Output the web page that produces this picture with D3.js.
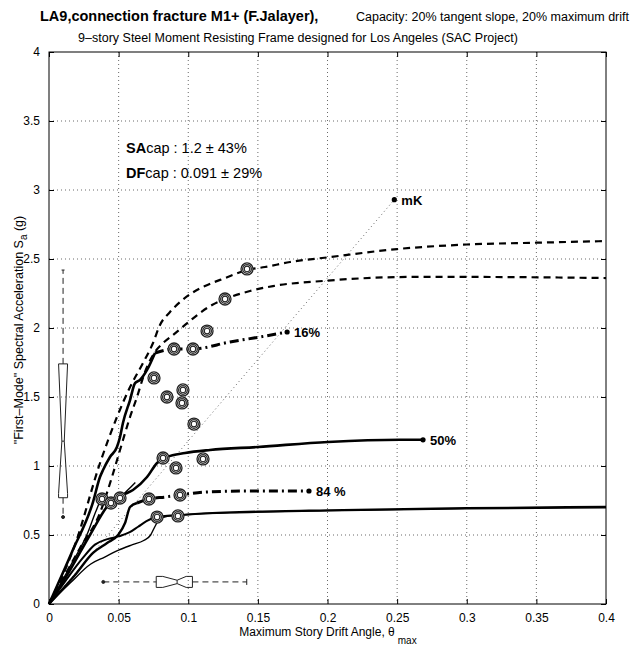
<!DOCTYPE html>
<html>
<head>
<meta charset="utf-8">
<script src="https://cdn.jsdelivr.net/npm/d3@7"></script>
<style>
body { margin: 0; background: #fff; }
text { font-family: "Liberation Sans", Arial, Helvetica, sans-serif; fill: #000; }
</style>
</head>
<body>
<svg></svg>
<script>
var width = 634, height = 649;
var margin = {top: 52, right: 28, bottom: 45, left: 49};
var w = width - margin.left - margin.right,
    h = height - margin.top - margin.bottom;

var xTicks = [0, 0.05, 0.1, 0.15, 0.2, 0.25, 0.3, 0.35, 0.4];
var yTicks = [0, 0.5, 1, 1.5, 2, 2.5, 3, 3.5, 4];

// single-record IDA curves [drift, Sa]
var idaDashA = [[0,0],[0.0187,0.43],[0.0366,1.02],[0.0488,1.355],[0.0582,1.572],[0.0675,1.746],
	[0.0747,1.891],[0.0797,2.022],[0.0869,2.116],[0.0941,2.188],[0.1027,2.254],[0.112,2.304],
	[0.1264,2.362],[0.1422,2.42],[0.1551,2.442],[0.1731,2.478],[0.2018,2.514],[0.25,2.572],
	[0.3,2.605],[0.35,2.618],[0.4,2.63]];
var idaDashB = [[0,0],[0.0223,0.406],[0.0366,0.66],[0.0452,0.92],[0.051,1.116],[0.0582,1.355],
	[0.0632,1.5],[0.0689,1.681],[0.0761,1.826],[0.0819,1.891],[0.089,1.949],[0.0977,2.022],
	[0.1084,2.109],[0.1171,2.167],[0.1264,2.21],[0.1443,2.268],[0.1609,2.304],[0.1968,2.341],
	[0.2614,2.37],[0.3,2.37],[0.4,2.362]];
var idaSolid1 = [[0,0],[0.012,0.17],[0.024,0.33],[0.033,0.43],[0.042,0.47],[0.05,0.49],[0.058,0.52],
	[0.064,0.56],[0.07,0.6],[0.077,0.63],[0.085,0.64],[0.093,0.645],[0.11,0.655],[0.15,0.67],
	[0.2,0.68],[0.3,0.695],[0.4,0.705]];
var idaSolid2 = [[0,0],[0.015,0.15],[0.03,0.29],[0.04,0.34],[0.05,0.39],[0.06,0.43],[0.068,0.46],
	[0.073,0.5],[0.076,0.56],[0.079,0.61],[0.085,0.635],[0.095,0.645],[0.13,0.66],[0.2,0.675],
	[0.3,0.69],[0.4,0.697]];
var idaSolid3 = [[0,0],[0.015,0.27],[0.028,0.52],[0.034,0.68],[0.038,0.76],[0.041,0.745],[0.045,0.73],
	[0.048,0.75],[0.051,0.77],[0.056,0.82],[0.062,0.88]];

// fractile curves
var frac16Solid = [[0,0],[0.0165,0.377],[0.0316,0.739],[0.0366,0.92],[0.0388,0.971],[0.0438,1.065],
	[0.0488,1.138],[0.051,1.21],[0.0531,1.312],[0.0582,1.478],[0.0618,1.601],[0.0653,1.623],
	[0.0704,1.696],[0.0761,1.819]];
var frac16Dash = [[0.0761,1.819],[0.0898,1.848],[0.1034,1.848],[0.13,1.899],[0.1515,1.935],[0.171,1.971]];
var frac50 = [[0,0],[0.0151,0.246],[0.0294,0.5],[0.0438,0.732],[0.0531,0.79],[0.0603,0.826],
	[0.0704,0.92],[0.0776,1.022],[0.0847,1.065],[0.0977,1.094],[0.1156,1.116],[0.1501,1.138],
	[0.2004,1.174],[0.2521,1.19],[0.2686,1.19]];
var frac84Solid = [[0,0],[0.0187,0.21],[0.0316,0.37],[0.0417,0.442],[0.0496,0.5],[0.0546,0.587],
	[0.0582,0.703],[0.0632,0.732]];
var frac84Dash = [[0.0632,0.732],[0.0718,0.761],[0.0833,0.775],[0.0941,0.79],[0.1135,0.812],
	[0.1443,0.819],[0.1867,0.819]];

// capacity points
var capPoints = [[0.1422,2.428],[0.1264,2.21],[0.1135,1.978],[0.0898,1.848],[0.1034,1.848],
	[0.0754,1.638],[0.0962,1.551],[0.0955,1.457],[0.0847,1.5],[0.1041,1.304],[0.0819,1.058],
	[0.0912,0.986],[0.1106,1.051],[0.0381,0.761],[0.0445,0.732],[0.051,0.768],[0.0718,0.761],
	[0.0941,0.79],[0.0776,0.63],[0.0926,0.638]];

var mK = [0.248, 2.93];

// box plots: lower whisker, q1, median, q3, upper whisker ; notch limits
var saBox = [0.63, 0.77, 1.18, 1.74, 2.42], saNotch = [0.8, 1.74];
var dfBox = [0.039, 0.077, 0.092, 0.103, 0.142], dfNotch = [0.0817, 0.0985];

var svg = d3.select("svg")
	.attr("width", width)
	.attr("height", height);

var x = d3.scaleLinear().domain([0, 0.4]).range([0, w]);
var y = d3.scaleLinear().domain([0, 4]).range([h, 0]);

var g = svg.append("g")
	.attr("transform", "translate(" + margin.left + "," + margin.top + ")");

// grid
g.append("g").selectAll("line")
	.data(xTicks.slice(1, -1))
	.enter().append("line")
	.attr("x1", function(d) { return x(d); }).attr("x2", function(d) { return x(d); })
	.attr("y1", 0).attr("y2", h)
	.attr("stroke", "#444").attr("stroke-width", 0.8).attr("stroke-dasharray", "1,3");
g.append("g").selectAll("line")
	.data(yTicks.slice(1, -1))
	.enter().append("line")
	.attr("y1", function(d) { return y(d); }).attr("y2", function(d) { return y(d); })
	.attr("x1", 0).attr("x2", w)
	.attr("stroke", "#444").attr("stroke-width", 0.8).attr("stroke-dasharray", "1,3");

// axes
var fmt = function(d) { return String(d); };
g.append("g").attr("transform", "translate(0," + h + ")")
	.call(d3.axisBottom(x).tickValues(xTicks).tickFormat(fmt).tickSizeInner(-5).tickSizeOuter(0).tickPadding(9));
g.append("g")
	.call(d3.axisLeft(y).tickValues(yTicks).tickFormat(fmt).tickSizeInner(-5).tickSizeOuter(0).tickPadding(9));
g.append("g")
	.call(d3.axisTop(x).tickValues(xTicks).tickFormat("").tickSizeInner(-5).tickSizeOuter(0));
g.append("g").attr("transform", "translate(" + w + ",0)")
	.call(d3.axisRight(y).tickValues(yTicks).tickFormat("").tickSizeInner(-5).tickSizeOuter(0));
g.selectAll(".domain").remove();
g.selectAll(".tick text").attr("font-size", 12).attr("font-family", "Liberation Sans, Arial, sans-serif");
g.selectAll(".tick line").attr("stroke", "#000");
g.append("rect").attr("width", w).attr("height", h)
	.attr("fill", "none").attr("stroke", "#000").attr("stroke-width", 1);

var line = d3.line()
	.x(function(d) { return x(d[0]); })
	.y(function(d) { return y(d[1]); })
	.curve(d3.curveMonotoneX);

// mK reference line
g.append("line")
	.attr("x1", x(0)).attr("y1", y(0))
	.attr("x2", x(mK[0])).attr("y2", y(mK[1]))
	.attr("stroke", "#555").attr("stroke-width", 0.9).attr("stroke-dasharray", "1,3");

var curves = [
	{d: idaSolid2, sw: 1.4, dash: null},
	{d: idaSolid1, sw: 2, dash: null},
	{d: idaSolid3, sw: 1.4, dash: null},
	{d: idaDashA, sw: 2.2, dash: "7,5"},
	{d: idaDashB, sw: 2.2, dash: "7,5"},
	{d: frac84Solid, sw: 2.4, dash: null},
	{d: frac84Dash, sw: 3, dash: "9,4,2,4"},
	{d: frac50, sw: 2.6, dash: null},
	{d: frac16Solid, sw: 2.6, dash: null},
	{d: frac16Dash, sw: 3, dash: "9,4,2,4"}
];

g.append("g").selectAll("path")
	.data(curves)
	.enter().append("path")
	.attr("d", function(c) { return line(c.d); })
	.attr("fill", "none")
	.attr("stroke", "#000")
	.attr("stroke-width", function(c) { return c.sw; })
	.attr("stroke-dasharray", function(c) { return c.dash; })
	.attr("stroke-linejoin", "round");

// capacity rings
var rings = g.append("g").selectAll("g")
	.data(capPoints)
	.enter().append("g")
	.attr("transform", function(d) { return "translate(" + x(d[0]) + "," + y(d[1]) + ")"; });
rings.append("circle").attr("r", 6).attr("fill", "#fff").attr("stroke", "#222").attr("stroke-width", 1.3);
rings.append("circle").attr("r", 4.4).attr("fill", "none").attr("stroke", "#333").attr("stroke-width", 1.3);
rings.append("circle").attr("r", 2.8).attr("fill", "none").attr("stroke", "#222").attr("stroke-width", 1.2);

// end markers with labels
var ends = [
	{p: frac16Dash[frac16Dash.length - 1], t: "16%"},
	{p: frac50[frac50.length - 1], t: "50%"},
	{p: frac84Dash[frac84Dash.length - 1], t: "84 %"},
	{p: mK, t: "mK"}
];
var endG = g.append("g").selectAll("g")
	.data(ends)
	.enter().append("g")
	.attr("transform", function(d) { return "translate(" + x(d.p[0]) + "," + y(d.p[1]) + ")"; });
endG.append("circle").attr("r", 2.6).attr("fill", "#000");
endG.append("text")
	.attr("x", 7).attr("y", 5)
	.attr("font-size", 13).attr("font-weight", "bold")
	.text(function(d) { return d.t; });

// notched box plots
var boxHalf = 4.5, notchHalf = 1.2;
var bx = x(0.0101);
var sa = saBox.map(y), san = saNotch.map(y);
var vb = g.append("g").attr("stroke", "#222").attr("fill", "none");
vb.append("line").attr("x1", bx).attr("x2", bx).attr("y1", sa[3]).attr("y2", sa[4])
	.attr("stroke-dasharray", "6,4");
vb.append("line").attr("x1", bx).attr("x2", bx).attr("y1", sa[1]).attr("y2", sa[0])
	.attr("stroke-dasharray", "6,4");
vb.append("line").attr("x1", bx - 1.5).attr("x2", bx + 1.5).attr("y1", sa[4]).attr("y2", sa[4]);
vb.append("circle").attr("cx", bx).attr("cy", sa[0]).attr("r", 1.5).attr("fill", "#222");
vb.append("path").attr("d", "M" + (bx - boxHalf) + "," + sa[3] +
	"L" + (bx + boxHalf) + "," + sa[3] +
	"L" + (bx + boxHalf) + "," + san[1] +
	"L" + (bx + notchHalf) + "," + sa[2] +
	"L" + (bx + boxHalf) + "," + san[0] +
	"L" + (bx + boxHalf) + "," + sa[1] +
	"L" + (bx - boxHalf) + "," + sa[1] +
	"L" + (bx - boxHalf) + "," + san[0] +
	"L" + (bx - notchHalf) + "," + sa[2] +
	"L" + (bx - boxHalf) + "," + san[1] + "Z");
vb.append("line").attr("x1", bx - notchHalf).attr("x2", bx + notchHalf).attr("y1", sa[2]).attr("y2", sa[2]);

var by = y(0.16);
var df = dfBox.map(x), dfn = dfNotch.map(x);
var hb = g.append("g").attr("stroke", "#222").attr("fill", "none");
hb.append("line").attr("y1", by).attr("y2", by).attr("x1", df[0]).attr("x2", df[1])
	.attr("stroke-dasharray", "6,4");
hb.append("line").attr("y1", by).attr("y2", by).attr("x1", df[3]).attr("x2", df[4])
	.attr("stroke-dasharray", "6,4");
hb.append("line").attr("y1", by - 3).attr("y2", by + 3).attr("x1", df[4]).attr("x2", df[4]);
hb.append("circle").attr("cx", df[0]).attr("cy", by).attr("r", 1.5).attr("fill", "#222");
hb.append("path").attr("d", "M" + df[1] + "," + (by - boxHalf - 1) +
	"L" + dfn[0] + "," + (by - boxHalf - 1) +
	"L" + df[2] + "," + (by - notchHalf - 0.5) +
	"L" + dfn[1] + "," + (by - boxHalf - 1) +
	"L" + df[3] + "," + (by - boxHalf - 1) +
	"L" + df[3] + "," + (by + boxHalf + 1) +
	"L" + dfn[1] + "," + (by + boxHalf + 1) +
	"L" + df[2] + "," + (by + notchHalf + 0.5) +
	"L" + dfn[0] + "," + (by + boxHalf + 1) +
	"L" + df[1] + "," + (by + boxHalf + 1) + "Z");
hb.append("line").attr("x1", df[2]).attr("x2", df[2]).attr("y1", by - notchHalf - 0.5).attr("y2", by + notchHalf + 0.5);

// statistics text
var st1 = g.append("text").attr("x", 77).attr("y", 101).attr("font-size", 14.5);
st1.append("tspan").attr("font-weight", "bold").text("SA");
st1.append("tspan").text("cap : 1.2 \u00b1 43%");
var st2 = g.append("text").attr("x", 77).attr("y", 126).attr("font-size", 14.5);
st2.append("tspan").attr("font-weight", "bold").text("DF");
st2.append("tspan").text("cap : 0.091 \u00b1 29%");

// titles
svg.append("text").attr("x", 40).attr("y", 21)
	.attr("font-size", 14.5).attr("font-weight", "bold")
	.text("LA9,connection fracture M1+ (F.Jalayer),");
svg.append("text").attr("x", 629).attr("y", 21).attr("text-anchor", "end")
	.attr("font-size", 12.5)
	.text("Capacity: 20% tangent slope, 20% maximum drift");
svg.append("text").attr("x", 298).attr("y", 42).attr("text-anchor", "middle")
	.attr("font-size", 12.5)
	.text("9\u2013story Steel Moment Resisting Frame designed for Los Angeles (SAC Project)");

// axis labels
var xl = svg.append("text").attr("x", 328).attr("y", 636).attr("text-anchor", "middle").attr("font-size", 12);
xl.append("tspan").text("Maximum Story Drift Angle, \u03b8");
xl.append("tspan").attr("dx", 3).attr("dy", 8).attr("font-size", 10).text("max");

var yl = svg.append("text")
	.attr("transform", "translate(23,330) rotate(-90)")
	.attr("text-anchor", "middle").attr("font-size", 12.5);
yl.append("tspan").text("\"First\u2013Mode\" Spectral Acceleration S");
yl.append("tspan").attr("dy", 4).attr("font-size", 10).text("a");
yl.append("tspan").attr("dy", -4).text(" (g)");
</script>
</body>
</html>
